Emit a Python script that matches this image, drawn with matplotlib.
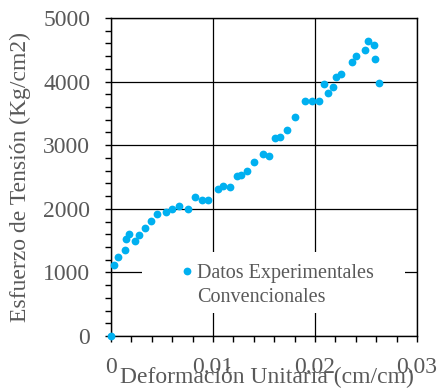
import matplotlib
matplotlib.use("Agg")
import matplotlib.pyplot as plt
from matplotlib.ticker import MultipleLocator
from matplotlib.patches import Rectangle
from matplotlib.lines import Line2D

# Deformación unitaria (cm/cm) y esfuerzo de tensión (Kg/cm2)
strain = [0.0, 0.00029, 0.00065, 0.00134, 0.00144, 0.00180, 0.00235, 0.00271,
          0.00330, 0.00389, 0.00451, 0.00539, 0.00598, 0.00663, 0.00755,
          0.00820, 0.00892, 0.00954, 0.01049, 0.01101, 0.01167, 0.01235,
          0.01275, 0.01337, 0.01399, 0.01487, 0.01549, 0.01605, 0.01660,
          0.01729, 0.01807, 0.01899, 0.01971, 0.02042, 0.02085, 0.02127,
          0.02176, 0.02206, 0.02252, 0.02363, 0.02405, 0.02493, 0.02523,
          0.02578, 0.02591, 0.02624]
stress = [0, 1117, 1248, 1358, 1521, 1605, 1490, 1589,
          1694, 1814, 1919, 1956, 2003, 2045, 2003,
          2182, 2135, 2135, 2308, 2365, 2339, 2517,
          2533, 2601, 2742, 2868, 2837, 3110, 3126,
          3241, 3450, 3692, 3692, 3692, 3965, 3818,
          3913, 4075, 4112, 4316, 4405, 4500, 4641,
          4578, 4353, 3986]

x_ticks = [0, 0.01, 0.02, 0.03]
x_tick_labels = ["0", "0.01", "0.02", "0.03"]
y_ticks = [0, 1000, 2000, 3000, 4000, 5000]
legend_lines = ["Datos Experimentales", "Convencionales"]

text_color = "#595959"
point_color = "#00B0F0"
plt.rcParams["font.family"] = ["Liberation Serif", "DejaVu Serif"]

fig = plt.figure(figsize=(4.40, 3.89), dpi=100)
ax = fig.add_axes([0.2523, 0.1362, 0.6954, 0.8175])

ax.plot(strain, stress, linestyle="none", marker="o", markersize=5.6,
        color=point_color, markeredgewidth=0, clip_on=False, zorder=3)

ax.set_xlim(0, 0.03)
ax.set_ylim(0, 5000)
ax.set_xticks(x_ticks)
ax.set_xticklabels(x_tick_labels)
ax.set_yticks(y_ticks)
ax.xaxis.set_minor_locator(MultipleLocator(0.002))
ax.yaxis.set_minor_locator(MultipleLocator(200))

ax.grid(True, which="major", color="black", linewidth=0.9, zorder=0)
ax.set_axisbelow(True)

for s in ax.spines.values():
    s.set_linewidth(1.0)
    s.set_color("black")

ax.tick_params(axis="both", which="both", direction="out", length=4.5,
               width=1.0, color="black", labelcolor=text_color,
               labelsize=17)
ax.tick_params(axis="both", which="major", pad=10.5)

ax.set_xlabel("Deformación Unitaria (cm/cm)", fontsize=17, color=text_color)
ax.xaxis.label.set_verticalalignment("center")
ax.xaxis.set_label_coords(0.51, -0.129)
ax.set_ylabel("Esfuerzo de Tensión (Kg/cm2)", fontsize=17, color=text_color)
ax.yaxis.label.set_verticalalignment("center")
ax.yaxis.set_label_coords(-0.297, 0.50)

# white legend area that interrupts the grid
ax.add_patch(Rectangle((0.100, 0.071), 0.861, 0.194, transform=ax.transAxes,
                       facecolor="white", edgecolor="none", zorder=1))

handles = [Line2D([], [], linestyle="none", marker="o", markersize=5.6,
                  color=point_color, markeredgewidth=0),
           Line2D([], [], linestyle="none")]
leg = ax.legend(handles, legend_lines, loc="upper left",
                bbox_to_anchor=(0.229, 0.226), frameon=False, fontsize=14.5,
                handlelength=0.6, handletextpad=0.2, borderpad=0,
                labelspacing=0.25, borderaxespad=0)
for t in leg.get_texts():
    t.set_color(text_color)

fig.savefig("out.png", dpi=100)
